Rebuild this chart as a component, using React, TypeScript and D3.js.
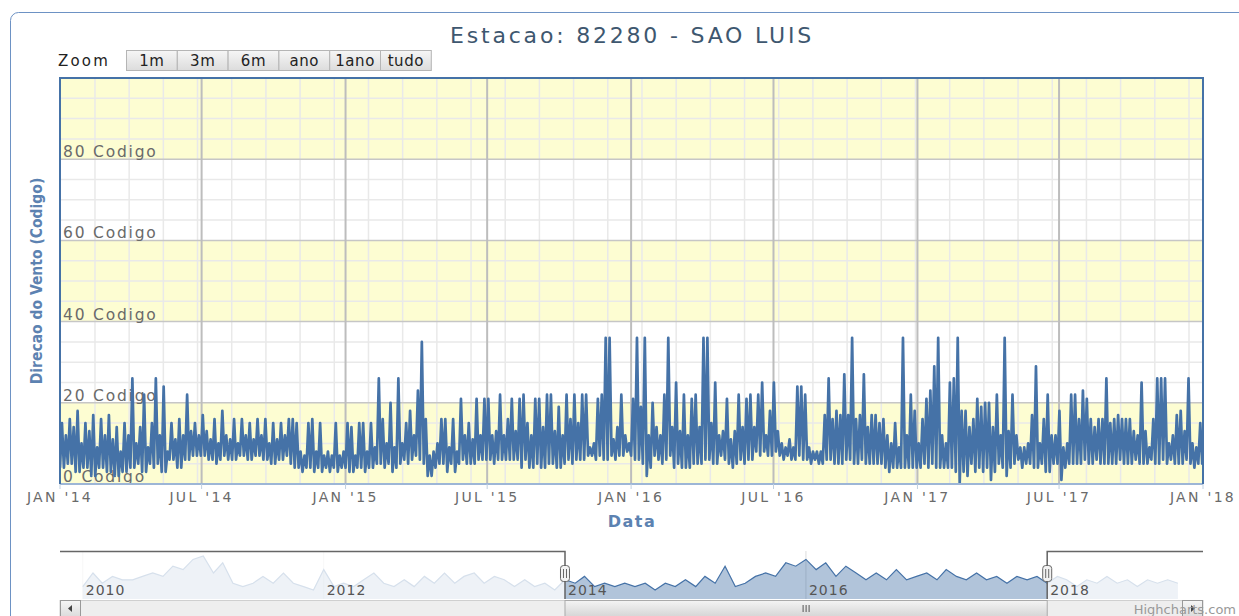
import * as d3 from "d3";

// 5-day windows from Jan 2014 to Dec 2017: lowest and highest reading in each window
const seriesStart = Date.UTC(2014, 0, 1);
const stepDays = 5;
const windHigh = [
  15, 12, 16, 14, 18, 10, 15, 13, 17, 9, 16, 12, 17, 11, 14, 8, 15, 12, 26, 10,
  14, 22, 9, 15, 26, 12, 24, 8, 15, 11, 16, 12, 22, 13, 15, 12, 17, 13, 11, 16,
  10, 18, 12, 11, 16, 10, 16, 12, 15, 11, 16, 12, 16, 10, 15, 11, 15, 12, 16,
  16, 15, 8, 7, 15, 16, 8, 15, 7, 8, 7, 15, 7, 8, 15, 14, 7, 15, 15, 8,
  15, 9, 26, 16, 10, 20, 9, 26, 10, 15, 18, 12, 23, 35, 16, 7, 8, 10, 16, 16,
  9, 16, 8, 21, 12, 15, 11, 21, 12, 21, 21, 12, 13, 22, 12, 16, 21, 13, 21,
  22, 15, 12, 21, 21, 14, 22, 22, 13, 19, 12, 22, 16, 22, 15, 22, 22, 9, 10, 21,
  22, 36, 36, 11, 14, 22, 12, 10, 21, 36, 19, 36, 12, 20, 14, 12, 22, 36, 14, 25,
  13, 22, 12, 21, 22, 14, 36, 36, 15, 25, 12, 13, 21, 11, 13, 22, 14, 21, 22,
  14, 22, 25, 12, 18, 25, 13, 10, 9, 11, 9, 24, 24, 22, 9, 8, 8, 8, 17, 26,
  16, 18, 17, 27, 17, 36, 16, 17, 27, 14, 17, 17, 15, 16, 12, 10, 15, 9, 36, 12,
  22, 18, 10, 16, 21, 23, 29, 36, 12, 10, 25, 26, 36, 18, 18, 14, 16, 21, 19,
  20, 20, 14, 22, 12, 36, 13, 22, 12, 9, 9, 10, 17, 29, 10, 16, 22, 12, 12, 18,
  9, 10, 22, 22, 16, 23, 21, 16, 14, 16, 16, 26, 15, 16, 17, 16, 16, 16, 13, 12,
  25, 13, 9, 16, 26, 26, 26, 10, 12, 17, 18, 13, 26, 10, 9, 15, 15,
];
const windLow = [
  4, 4, 5, 5, 3, 3, 4, 4, 2, 2, 4, 4, 3, 3, 2, 2, 3, 3, 4, 4,
  5, 3, 3, 5, 4, 5, 3, 3, 6, 6, 4, 4, 6, 6, 7, 7, 7, 7, 6, 6,
  5, 6, 7, 6, 6, 6, 7, 7, 6, 6, 7, 7, 6, 6, 5, 5, 6, 6, 7,
  5, 4, 4, 3, 4, 4, 3, 4, 3, 4, 3, 4, 3, 4, 4, 3, 3, 4, 4, 3,
  4, 4, 5, 5, 4, 5, 3, 4, 5, 6, 5, 6, 7, 6, 5, 2, 2, 4, 5, 5,
  3, 5, 3, 5, 6, 5, 5, 5, 6, 6, 6, 6, 5, 6, 6, 6, 6, 6, 6,
  4, 6, 4, 4, 5, 4, 4, 5, 5, 4, 4, 5, 6, 5, 6, 6, 6, 7, 7, 6,
  7, 6, 6, 7, 6, 7, 7, 8, 7, 6, 6, 5, 2, 4, 7, 6, 5, 6, 7, 4,
  5, 4, 4, 4, 5, 5, 5, 6, 6, 5, 5, 7, 6, 5, 4, 5, 6, 5, 6,
  6, 8, 7, 8, 7, 7, 8, 7, 6, 7, 6, 6, 7, 6, 6, 5, 6, 5, 5, 6,
  6, 5, 5, 5, 6, 6, 5, 5, 6, 5, 5, 5, 5, 5, 4, 3, 4, 4, 4, 4,
  4, 4, 4, 4, 5, 4, 5, 4, 4, 4, 4, 4, 3, 0, 3, 2, 5, 3, 4,
  3, 4, 1, 3, 5, 4, 2, 4, 5, 6, 4, 5, 5, 4, 4, 5, 3, 3, 5, 5,
  1, 4, 5, 5, 5, 5, 6, 5, 5, 6, 5, 5, 5, 5, 5, 6, 5, 5, 5, 6,
  5, 5, 5, 6, 5, 5, 6, 5, 6, 5, 5, 5, 6, 5, 4, 5, 5,
];

// navigator: monthly means, Jan 2010 .. Feb 2019
const navValues = [
  6, 10, 7, 9, 8, 8, 9, 10, 9, 12, 11, 14,
  15, 10, 13, 7, 6, 7, 9, 7, 10, 7, 6, 5,
  11, 6, 7, 6, 8, 10, 7, 6, 8, 6, 9, 7,
  10, 7, 9, 10, 7, 9, 8, 6, 8, 6, 7, 5,
  8, 7, 9, 6, 7, 6, 7, 6, 7, 5, 7, 6,
  8, 6, 9, 7, 12, 6, 7, 9, 10, 9, 13, 12,
  14, 11, 13, 9, 12, 10, 8, 10, 8, 11, 8, 9,
  10, 8, 11, 9, 8, 10, 8, 9, 7, 9, 8, 9,
  7, 9, 8, 6, 8, 7, 9, 7, 8, 6, 8, 7,
  8, 7,
];

const yTicks = [0, 20, 40, 60, 80];
const yBands = [[0, 20], [40, 60], [80, 100]];
const navYears = [2010, 2012, 2014, 2016, 2018];
const zoomButtons = ["1m", "3m", "6m", "ano", "1ano", "tudo"];
const title = "Estacao: 82280 - SAO LUIS";

const font = "'DejaVu Sans', sans-serif";
const lineColor = "#4572A7";
const dayMs = 86400000;

const plot = { left: 60, top: 78, right: 1203, bottom: 484 };
const nav = { top: 551, bottom: 599 };

type Pt = { date: Date; value: number };

export default function App() {
  // each window: its low first, its high half a window later
  const points: Pt[] = [];
  windLow.forEach((lo, i) => {
    const t = seriesStart + i * stepDays * dayMs;
    points.push({ date: new Date(t), value: lo });
    points.push({ date: new Date(t + (stepDays / 2) * dayMs), value: windHigh[i] });
  });
  const navPoints: Pt[] = navValues.map((v, i) => ({ date: new Date(Date.UTC(2010, i, 1)), value: v }));

  const x = d3.scaleUtc().domain([new Date(Date.UTC(2014, 0, 1)), new Date(Date.UTC(2018, 0, 1))]).range([plot.left, plot.right]);
  const y = d3.scaleLinear().domain([0, 100]).range([plot.bottom, plot.top]);

  const majorX = x.ticks(d3.utcMonth.every(6));
  const fmt = d3.utcFormat("%b '%y");
  // minor grid every ~43.7 days
  const minorX: Date[] = [];
  for (let t = seriesStart + 44.7 * dayMs; t < Date.UTC(2018, 0, 1); t += 43.7 * dayMs) minorX.push(new Date(t));
  const minorY = d3.range(5, 100, 5).filter((v) => v % 20 !== 0);

  const line = d3.line<Pt>().x((d) => x(d.date)).y((d) => y(d.value));

  const nx = d3.scaleUtc().domain([new Date(Date.UTC(2009, 9, 24)), new Date(Date.UTC(2019, 3, 18))]).range([plot.left, plot.right]);
  const ny = d3.scaleLinear().domain(d3.extent(navValues) as [number, number]).range([nav.bottom - 9, nav.top + 5]);
  const navLine = d3.line<Pt>().x((d) => nx(d.date)).y((d) => ny(d.value));
  const navArea = d3.area<Pt>().x((d) => nx(d.date)).y0(nav.bottom).y1((d) => ny(d.value));
  const selL = nx(new Date(Date.UTC(2014, 0, 1)));
  const selR = nx(new Date(Date.UTC(2018, 0, 1)));

  return (
    <svg width={1239} height={616} style={{ position: "absolute", left: 0, top: 0, fontFamily: font }}>
      <defs>
        <clipPath id="plotClip">
          <rect x={plot.left} y={plot.top} width={plot.right - plot.left} height={plot.bottom - plot.top} />
        </clipPath>
        <linearGradient id="btn" x1="0" y1="0" x2="0" y2="1">
          <stop offset="0" stopColor="#f6f6f6" />
          <stop offset="1" stopColor="#dcdcdc" />
        </linearGradient>
        <linearGradient id="thumb" x1="0" y1="0" x2="0" y2="1">
          <stop offset="0" stopColor="#f4f4f4" />
          <stop offset="1" stopColor="#d6d6d6" />
        </linearGradient>
      </defs>
      <rect x={10.5} y={12.5} width={1260} height={640} rx={8} fill="#fff" stroke="#6d92c4" />

      <text x={632} y={43} textAnchor="middle" fontSize={22} letterSpacing={2.8} fill="#3E576F">{title}</text>

      <text x={58} y={66} fontSize={15} letterSpacing={2.2} fill="#222">Zoom</text>
      {zoomButtons.map((b, i) => (
        <g key={b}>
          <rect x={126.5 + i * 50.8} y={50.5} width={50.8} height={20} fill="url(#btn)" stroke="#b5b5b5" />
          <text x={126.5 + i * 50.8 + 25.4} y={65.5} textAnchor="middle" fontSize={15} letterSpacing={0.6} fill="#222">{b}</text>
        </g>
      ))}

      {yBands.map(([a, b]) => (
        <rect key={a} x={plot.left} y={y(b)} width={plot.right - plot.left} height={y(a) - y(b)} fill="#fdfdd2" />
      ))}
      {minorY.map((v) => (
        <line key={v} x1={plot.left} x2={plot.right} y1={y(v)} y2={y(v)} stroke="#e9e9e9" strokeWidth={1.5} />
      ))}
      {minorX.map((d) => (
        <line key={+d} x1={x(d)} x2={x(d)} y1={plot.top} y2={plot.bottom} stroke="#e9e9e9" strokeWidth={1.5} />
      ))}
      {yTicks.slice(1).map((v) => (
        <line key={v} x1={plot.left} x2={plot.right} y1={y(v)} y2={y(v)} stroke="#c6c6c6" strokeWidth={1.5} />
      ))}
      {majorX.slice(1, -1).map((d) => (
        <line key={+d} x1={x(d)} x2={x(d)} y1={plot.top} y2={plot.bottom} stroke="#bdbdbd" strokeWidth={2} />
      ))}
      {yTicks.map((v) => (
        <text key={v} x={plot.left + 3} y={y(v) - 2} fontSize={15.5} letterSpacing={1.8} fill="#6a6a6a">{`${v} Codigo`}</text>
      ))}

      <path d={line(points) ?? ""} fill="none" stroke={lineColor} strokeWidth={2.7} strokeLinejoin="round" clipPath="url(#plotClip)" />

      <line x1={plot.left} x2={plot.right} y1={plot.bottom} y2={plot.bottom} stroke="#9db6d6" strokeWidth={2} />
      <path d={`M${plot.left},${plot.bottom}V${plot.top}H${plot.right}V${plot.bottom}`} fill="none" stroke={lineColor} strokeWidth={2} />
      {majorX.map((d) => (
        <g key={+d}>
          <line x1={x(d)} x2={x(d)} y1={plot.bottom} y2={plot.bottom + 5} stroke="#c0d0e0" />
          <text x={x(d)} y={502} textAnchor="middle" fontSize={14} letterSpacing={2.3} fill="#6a6a6a">{fmt(d).toUpperCase()}</text>
        </g>
      ))}

      <text transform="translate(42,281) rotate(-90)" textAnchor="middle" fontSize={15.5} fontWeight="bold" fontFamily="'DejaVu Sans Condensed', 'DejaVu Sans', sans-serif" fill="#5c82b1">Direcao do Vento (Codigo)</text>
      <text x={632} y={527} textAnchor="middle" fontSize={16} fontWeight="bold" letterSpacing={1.5} fill="#5c82b1">Data</text>

      {navYears.map((yr) => {
        const d = new Date(Date.UTC(yr, 0, 1));
        return <line key={yr} x1={nx(d)} x2={nx(d)} y1={nav.top} y2={nav.bottom} stroke="#dcdcdc" />;
      })}
      <path d={navArea(navPoints) ?? ""} fill={lineColor} fillOpacity={0.42} />
      <path d={navLine(navPoints) ?? ""} fill="none" stroke={lineColor} strokeWidth={1.2} />
      <rect x={plot.left} y={nav.top} width={selL - plot.left} height={nav.bottom - nav.top} fill="#fff" fillOpacity={0.78} />
      <rect x={selR} y={nav.top} width={plot.right - selR} height={nav.bottom - nav.top} fill="#fff" fillOpacity={0.78} />
      {navYears.map((yr) => (
        <text key={yr} x={nx(new Date(Date.UTC(yr, 0, 1))) + 3} y={595} fontSize={14} letterSpacing={1} fill="#555">{yr}</text>
      ))}
      <path d={`M${plot.left},${nav.top + 0.5}H${selL}V${nav.bottom}M${selR},${nav.bottom}V${nav.top + 0.5}H${plot.right}`} fill="none" stroke="#666" strokeWidth={1.5} />
      {[selL, selR].map((hx) => (
        <g key={hx}>
          <rect x={hx - 4.5} y={565.5} width={9} height={16} rx={3} fill="#f2f2f2" stroke="#666" />
          <line x1={hx - 1.5} x2={hx - 1.5} y1={569} y2={578} stroke="#666" />
          <line x1={hx + 1.5} x2={hx + 1.5} y1={569} y2={578} stroke="#666" />
        </g>
      ))}

      <rect x={plot.left} y={600.5} width={plot.right - plot.left} height={16} fill="#eeeeee" stroke="#cfcfcf" />
      <rect x={selL} y={600.5} width={selR - selL} height={16} fill="url(#thumb)" stroke="#aaa" />
      {[-3, 0, 3].map((o) => (
        <line key={o} x1={(selL + selR) / 2 + o} x2={(selL + selR) / 2 + o} y1={605} y2={612} stroke="#555" />
      ))}
      <rect x={plot.left + 0.5} y={600.5} width={20} height={16} fill="url(#btn)" stroke="#999" />
      <path d={`M${plot.left + 12},${605}L${plot.left + 8},${608.5}L${plot.left + 12},${612}Z`} fill="#444" />
      <rect x={plot.right - 20.5} y={600.5} width={20} height={16} fill="url(#btn)" stroke="#999" />
      <path d={`M${plot.right - 12},${605}L${plot.right - 8},${608.5}L${plot.right - 12},${612}Z`} fill="#444" />
      <text x={1236} y={614} textAnchor="end" fontSize={13} fill="#999">Highcharts.com</text>
    </svg>
  );
}
